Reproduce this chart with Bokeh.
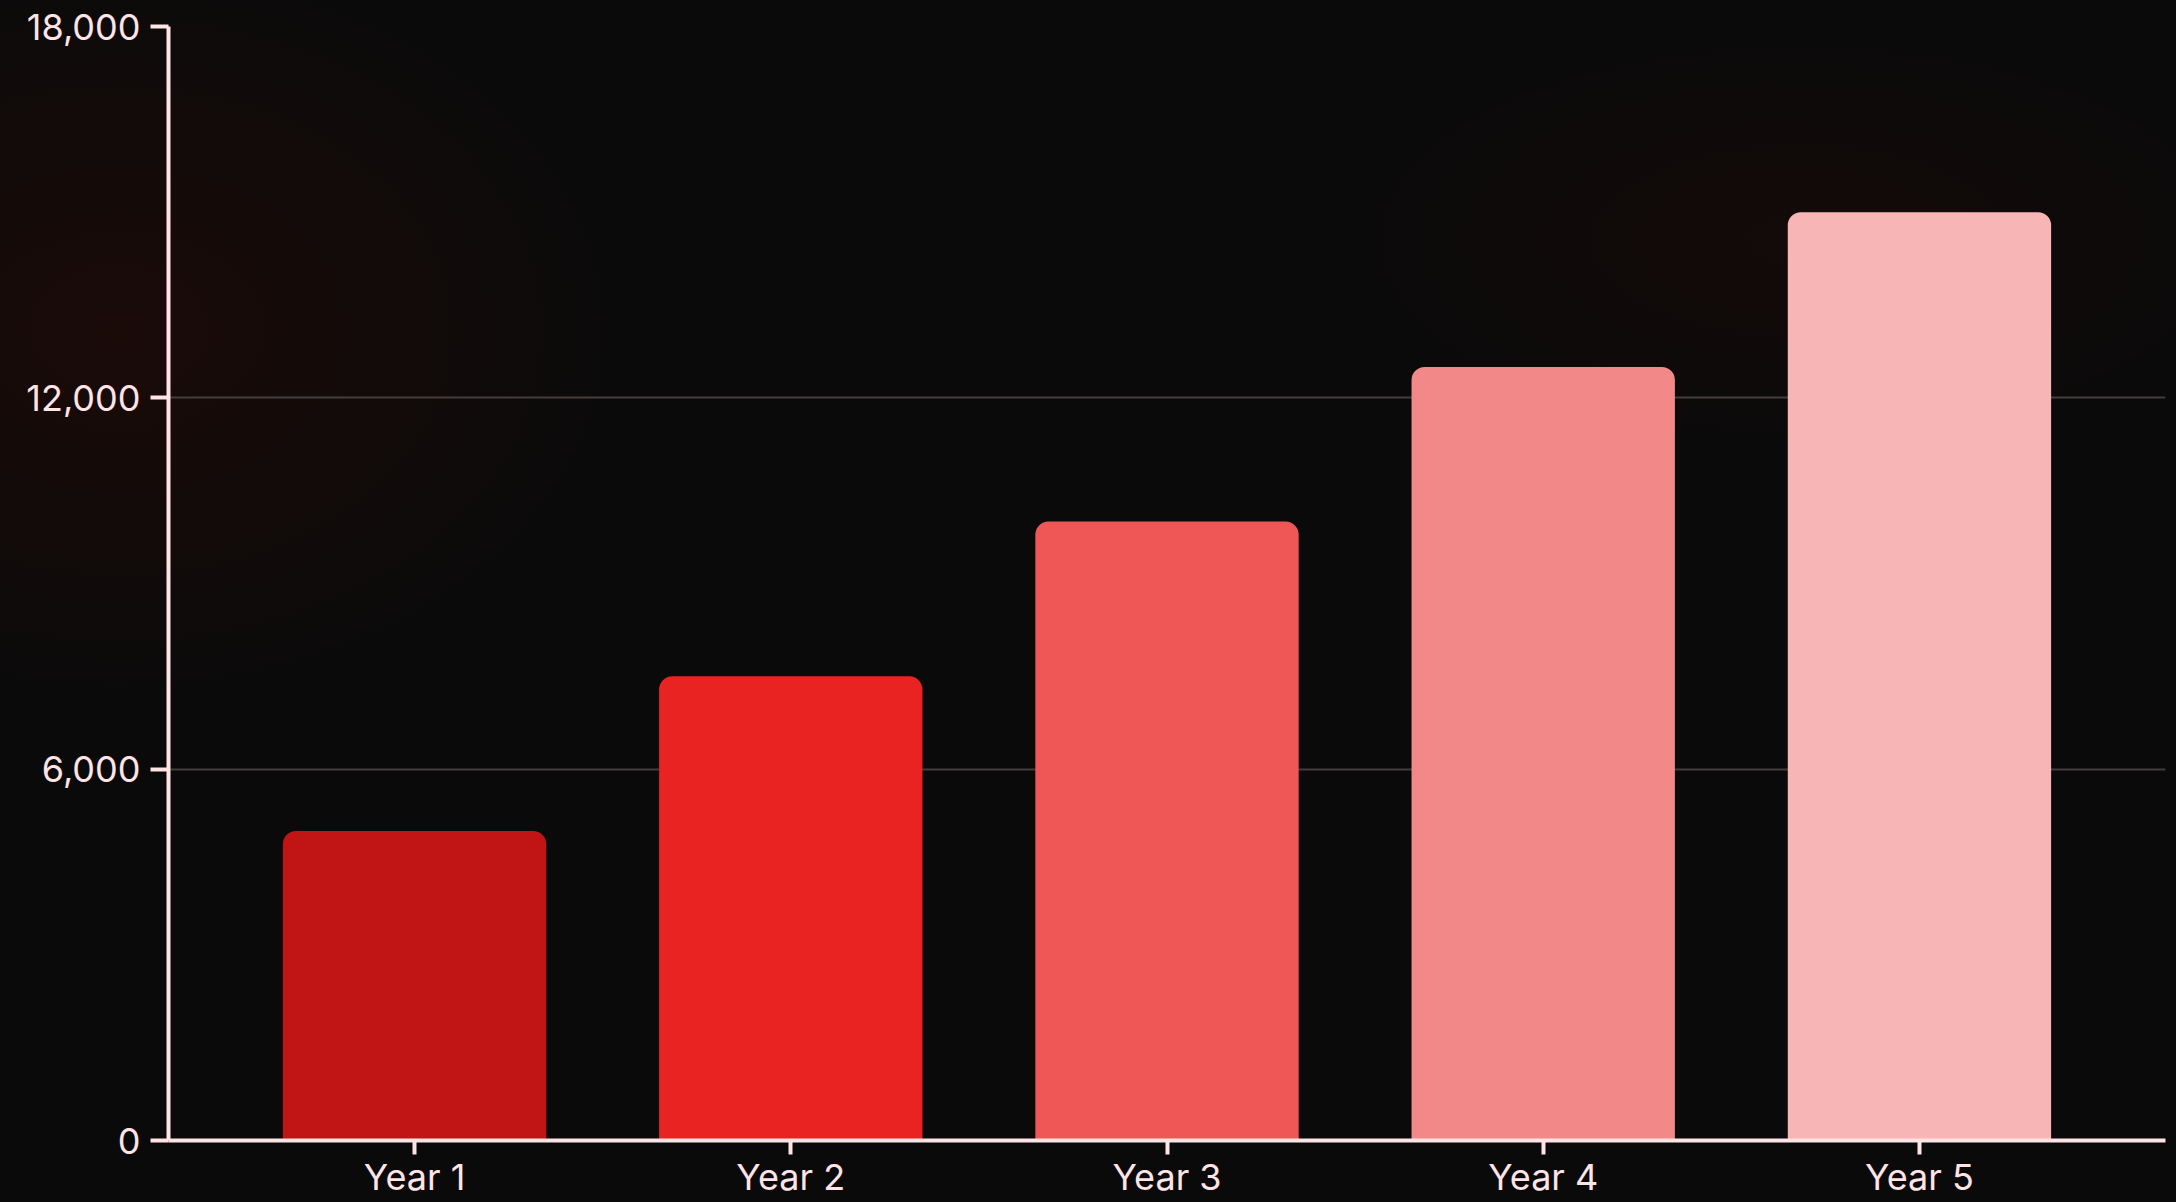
from bokeh.plotting import figure
from bokeh.models import FixedTicker, NumeralTickFormatter, Range1d, ColumnDataSource
from bokeh.embed import file_html
from bokeh.resources import INLINE

categories = ["Year 1", "Year 2", "Year 3", "Year 4", "Year 5"]
values = [5000, 7500, 10000, 12500, 15000]
colors = ["#C11414", "#E92222", "#EF5656", "#F38888", "#F8B5B5"]
y_ticks = [0, 6000, 12000, 18000]

positions = list(range(len(categories)))
source = ColumnDataSource(dict(x=positions, top=values, color=colors, cat=categories))

AX = "#FFE4E6"
FONT = "Inter"

p = figure(width=2176, height=1202, output_backend="svg", toolbar_location=None,
           x_range=Range1d(-0.654, len(categories) - 1 + 0.654),
           y_range=Range1d(0, 18000),
           min_border_left=168, min_border_right=11, min_border_top=26, min_border_bottom=62)

p.styles = {"background": (
    "radial-gradient(ellipse 750px 550px at 120px 330px, rgba(40,12,8,0.55), rgba(0,0,0,0) 70%),"
    "radial-gradient(ellipse 700px 320px at 1800px 240px, rgba(30,10,6,0.45), rgba(0,0,0,0) 70%),"
    "#0a0a0a")}
p.background_fill_color = None
p.border_fill_color = None
p.outline_line_color = None

p.vbar(x="x", top="top", bottom=0, width=0.70, source=source, fill_color="color",
       line_color=None, border_radius=(13, 13, 0, 0))

p.xgrid.grid_line_color = None
p.ygrid.grid_line_color = "#453d3d"
p.ygrid.grid_line_width = 2
p.ygrid.ticker = FixedTicker(ticks=y_ticks)

for ax in (p.xaxis[0], p.yaxis[0]):
    ax.axis_line_color = AX
    ax.axis_line_width = 4
    ax.major_tick_line_color = AX
    ax.major_tick_line_width = 4
    ax.major_tick_out = 18
    ax.major_tick_in = 0
    ax.minor_tick_line_color = None
    ax.major_label_text_color = AX
    ax.major_label_text_font = FONT
    ax.major_label_text_font_size = "36px"
    ax.major_label_text_font_style = "normal"

p.yaxis[0].ticker = FixedTicker(ticks=y_ticks)
p.yaxis[0].formatter = NumeralTickFormatter(format="0,0")
p.yaxis[0].major_label_standoff = 10

p.xaxis[0].ticker = FixedTicker(ticks=positions)
p.xaxis[0].major_label_overrides = {i: c for i, c in zip(positions, categories)}
p.xaxis[0].major_tick_out = 14
p.xaxis[0].major_label_standoff = 0

open("out.html", "w").write(file_html(p, INLINE))
